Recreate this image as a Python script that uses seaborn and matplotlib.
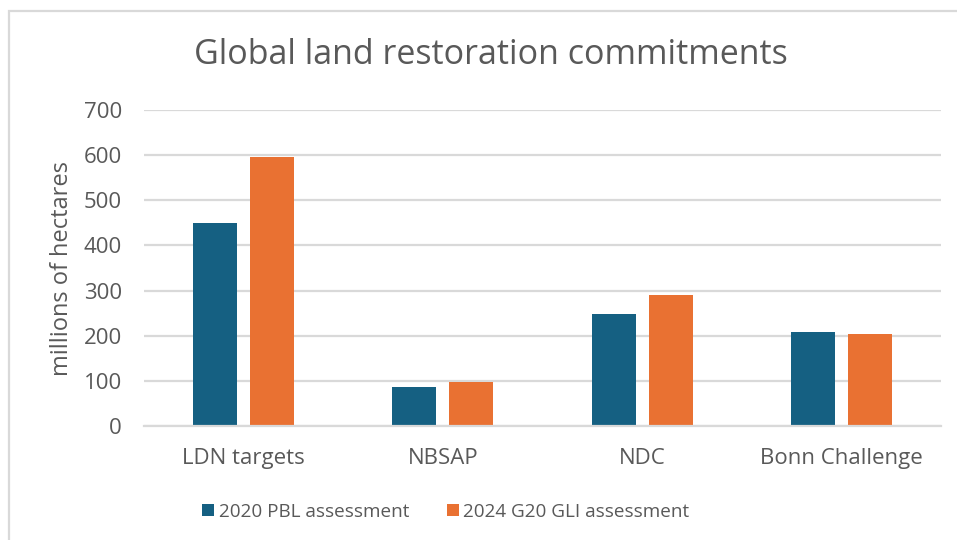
import matplotlib
matplotlib.use("Agg")
import matplotlib.pyplot as plt
import seaborn as sns
import pandas as pd
from matplotlib.patches import Rectangle

# data
categories = ["LDN targets", "NBSAP", "NDC", "Bonn Challenge"]
pbl_2020 = [450, 87, 249, 209]
gli_2024 = [596, 98, 291, 203]
series = ["2020 PBL assessment", "2024 G20 GLI assessment"]
yticks = [0, 100, 200, 300, 400, 500, 600, 700]

df = pd.DataFrame({
    "category": categories * 2,
    "value": pbl_2020 + gli_2024,
    "series": [series[0]] * 4 + [series[1]] * 4,
})

sns.set_style("white")
plt.rcParams["font.family"] = ["Open Sans", "DejaVu Sans"]

text_col = "#595959"
grid_col = "#D9D9D9"

fig = plt.figure(figsize=(9.57, 5.4), dpi=100)
ax = fig.add_axes([144 / 957, 1 - 426 / 540, (941 - 144) / 957, (426 - 110) / 540])

sns.barplot(data=df, x="category", y="value", hue="series",
            palette=["#156082", "#E97132"], saturation=1,
            width=0.573, gap=0.228, linewidth=0, ax=ax, legend=True)

ax.set_ylim(0, 700)
ax.set_yticks(yticks)
ax.set_xlim(-0.5, 3.5)
ax.yaxis.grid(True, color=grid_col, linewidth=1.6)
ax.set_axisbelow(True)
for s in ["top", "right", "left"]:
    ax.spines[s].set_visible(False)
ax.spines["bottom"].set_color(grid_col)
ax.spines["bottom"].set_linewidth(1.6)
ax.tick_params(axis="both", length=0, labelsize=16, colors=text_col)
ax.tick_params(axis="y", pad=16)
ax.tick_params(axis="x", pad=16)
ax.set_xlabel("")
ax.set_ylabel("millions of hectares", fontsize=17, color=text_col, labelpad=7)

fig.text(491 / 957, 1 - 55 / 540, "Global land restoration commitments",
         ha="center", va="center", fontsize=24.5, color=text_col)

leg = ax.legend(loc="center", bbox_to_anchor=(446 / 957, 1 - 512 / 540),
                bbox_transform=fig.transFigure, ncol=2, frameon=False,
                fontsize=13.6, handlelength=0.62, handleheight=0.62,
                handletextpad=0.25, columnspacing=2.0)
for t in leg.get_texts():
    t.set_color(text_col)

# outer chart frame
fig.patches.append(Rectangle((9 / 957, -0.1), 1.2, 1 - 11 / 540 + 0.1,
                             transform=fig.transFigure, fill=False,
                             edgecolor=grid_col, linewidth=1.6))

fig.savefig("out.png", dpi=100)
